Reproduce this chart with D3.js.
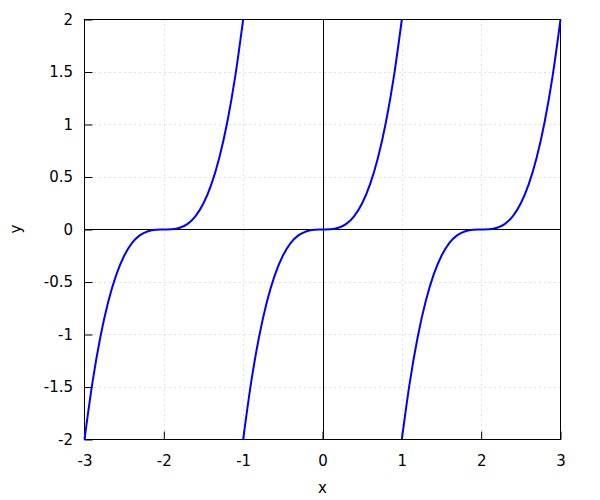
<!DOCTYPE html>
<html><head><meta charset="utf-8">
<script src="https://cdn.jsdelivr.net/npm/d3@7"></script>
<style>body{margin:0;background:#fff}svg{display:block}text{font-family:"DejaVu Sans",sans-serif;font-size:15px;fill:#000}</style>
</head><body>
<script>
// Values (three branches of the curve)
const xTicks = [-3, -2, -1, 0, 1, 2, 3];
const yTicks = [-2, -1.5, -1, -0.5, 0, 0.5, 1, 1.5, 2];
const branch1X = [-3,-2.9,-2.8,-2.7,-2.6,-2.5,-2.4,-2.3,-2.2,-2.1,-2,-1.9,-1.8,-1.7,-1.6,-1.5,-1.4,-1.3,-1.2,-1.1,-1];
const branch1Y = [-2,-1.458,-1.024,-0.686,-0.432,-0.25,-0.128,-0.054,-0.016,-0.002,0,0.002,0.016,0.054,0.128,0.25,0.432,0.686,1.024,1.458,2];
const branch2X = [-1,-0.9,-0.8,-0.7,-0.6,-0.5,-0.4,-0.3,-0.2,-0.1,0,0.1,0.2,0.3,0.4,0.5,0.6,0.7,0.8,0.9,1];
const branch2Y = [-2,-1.458,-1.024,-0.686,-0.432,-0.25,-0.128,-0.054,-0.016,-0.002,0,0.002,0.016,0.054,0.128,0.25,0.432,0.686,1.024,1.458,2];
const branch3X = [1,1.1,1.2,1.3,1.4,1.5,1.6,1.7,1.8,1.9,2,2.1,2.2,2.3,2.4,2.5,2.6,2.7,2.8,2.9,3];
const branch3Y = [-2,-1.458,-1.024,-0.686,-0.432,-0.25,-0.128,-0.054,-0.016,-0.002,0,0.002,0.016,0.054,0.128,0.25,0.432,0.686,1.024,1.458,2];

const W = 600, H = 500;
const L = 84.5, R = 560.5, T = 19.5, B = 439.5;
const svg = d3.select("body").append("svg").attr("width", W).attr("height", H);
const x = d3.scaleLinear().domain([-3, 3]).range([L, R]);
const y = d3.scaleLinear().domain([-2, 2]).range([B, T]);

// grid
const grid = svg.append("g").attr("stroke", "#c0c0c0").attr("stroke-width", 1).attr("stroke-dasharray", "1,4");
xTicks.slice(1, -1).forEach(v => grid.append("line").attr("x1", Math.round(x(v)) + 0.5).attr("x2", Math.round(x(v)) + 0.5).attr("y1", T).attr("y2", B));
yTicks.slice(1, -1).forEach(v => grid.append("line").attr("y1", Math.round(y(v) - 0.5) + 0.5).attr("y2", Math.round(y(v) - 0.5) + 0.5).attr("x1", L).attr("x2", R));

// zero axes
svg.append("line").attr("x1", Math.round(x(0)) + 0.5).attr("x2", Math.round(x(0)) + 0.5).attr("y1", T).attr("y2", B).attr("stroke", "#000");
svg.append("line").attr("y1", Math.round(y(0) - 0.5) + 0.5).attr("y2", Math.round(y(0) - 0.5) + 0.5).attr("x1", L).attr("x2", R).attr("stroke", "#000");

// axes with inward ticks
const xAxis = d3.axisBottom(x).tickValues(xTicks).tickSizeInner(-8).tickSizeOuter(0).tickPadding(16).tickFormat(d => String(d));
const gx = svg.append("g").attr("transform", `translate(0,${B})`).call(xAxis);
const yAxis = d3.axisLeft(y).tickValues(yTicks).tickSizeInner(-8).tickSizeOuter(0).tickPadding(11.5).tickFormat(d => String(d));
const gy = svg.append("g").attr("transform", `translate(${L},0)`).call(yAxis);
[gx, gy].forEach(g => {
  g.select(".domain").remove();
  g.selectAll("line").attr("stroke", "#000");
  g.selectAll("text").attr("font-size", 15).attr("font-family", "DejaVu Sans, sans-serif").attr("fill", "#000");
});
gx.selectAll("text").attr("dy", "0.71em");

// frame
svg.append("rect").attr("x", L).attr("y", T).attr("width", R - L).attr("height", B - T).attr("fill", "none").attr("stroke", "#000");

// curves
svg.append("clipPath").attr("id", "c").append("rect").attr("x", L - 2).attr("y", T - 2).attr("width", R - L + 4).attr("height", B - T + 4);
const line = d3.line().x(d => x(d[0])).y(d => y(d[1])).curve(d3.curveMonotoneX);
[[branch1X, branch1Y], [branch2X, branch2Y], [branch3X, branch3Y]].forEach(([xs, ys]) => {
  svg.append("path").datum(xs.map((v, i) => [v, ys[i]])).attr("d", line)
    .attr("fill", "none").attr("stroke", "#0000ff").attr("stroke-width", 2).attr("clip-path", "url(#c)");
});

// axis labels
svg.append("text").attr("x", x(0)).attr("y", 493).attr("text-anchor", "middle").text("x");
svg.append("text").attr("transform", `translate(21,229) rotate(-90)`).attr("text-anchor", "middle").text("y");
</script>
</body></html>
